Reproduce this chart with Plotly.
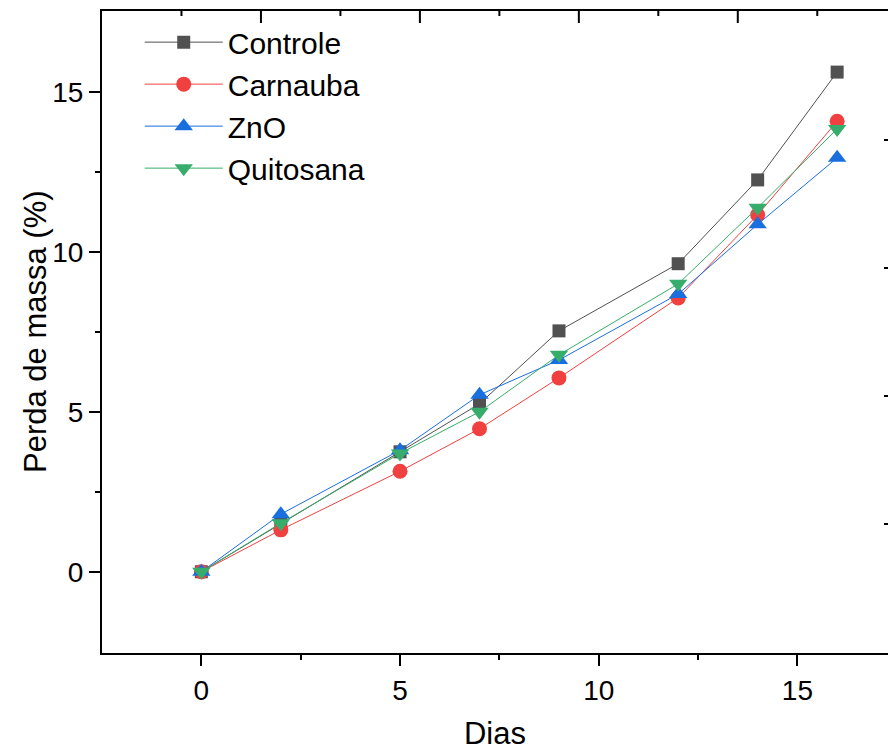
import plotly.graph_objects as go

dias = [0, 2, 5, 7, 9, 12, 14, 16]
controle = [0.0, 1.5, 3.75, 5.25, 7.53, 9.63, 12.25, 15.62]
carnauba = [0.0, 1.31, 3.14, 4.47, 6.06, 8.56, 11.16, 14.08]
zno = [0.0, 1.8, 3.8, 5.53, 6.62, 8.68, 10.86, 12.94]
quitosana = [0.0, 1.52, 3.7, 5.0, 6.78, 9.0, 11.38, 13.84]

x_ticks = [0, 5, 10, 15]
x_minor = [2.5, 7.5, 12.5]
y_ticks = [0, 5, 10, 15]
y_minor = [2.5, 7.5, 12.5]
top_ticks = [1.5, 5.5, 9.5, 13.5]
top_minor = [-0.5, 3.5, 7.5, 11.5, 15.5]
right_ticks = [1.5, 5.5, 9.5, 13.5]

series = [
    ("Controle", controle, "#515151", "square", 13),
    ("Carnauba", carnauba, "#F14040", "circle", 15),
    ("ZnO", zno, "#1A6FDF", "triangle-up", 16),
    ("Quitosana", quitosana, "#37AD6B", "triangle-down", 16),
]

font = "Liberation Sans, Arial, sans-serif"
XR = [-2.5, 17.28]
YR = [-2.54, 17.53]
PLOT_H = 751 - 11 - 98
PX_PER_Y = PLOT_H / (YR[1] - YR[0])

fig = go.Figure()
for name, vals, color, sym, size in series:
    fig.add_trace(go.Scatter(
        x=dias, y=vals, name=name, mode="lines+markers",
        line=dict(color=color, width=1),
        marker=dict(symbol=sym, size=size, color=color, line=dict(width=0)),
    ))

# top frame ticks (inward), drawn as line segments from the tick lists
tx, ty = [], []
for vals, ln in [(top_ticks, 12), (top_minor, 5)]:
    for v in vals:
        tx += [v, v, None]
        ty += [YR[1], YR[1] - ln / PX_PER_Y, None]
fig.add_trace(go.Scatter(x=tx, y=ty, mode="lines",
                         line=dict(color="black", width=2),
                         showlegend=False, hoverinfo="skip"))

# invisible trace to activate the right frame axis
fig.add_trace(go.Scatter(x=dias, y=controle, xaxis="x", yaxis="y2",
                         mode="markers", marker=dict(opacity=0, size=1),
                         showlegend=False, hoverinfo="skip"))

fig.update_layout(
    width=888, height=751,
    margin=dict(l=102, r=0, t=11, b=98),
    plot_bgcolor="white", paper_bgcolor="white",
    font=dict(family=font, color="black"),
    showlegend=True,
    legend=dict(x=0.048, y=0.992, xanchor="left", yanchor="top",
                bgcolor="rgba(0,0,0,0)", font=dict(size=30, family=font),
                tracegroupgap=0, itemwidth=78),
    xaxis=dict(
        range=XR, tickmode="array", tickvals=x_ticks,
        showline=True, mirror=True, linecolor="black", linewidth=2,
        ticks="outside", ticklen=11, tickwidth=2, tickcolor="black",
        minor=dict(tickvals=x_minor, ticks="outside", ticklen=5,
                   tickwidth=2, tickcolor="black"),
        showgrid=False, zeroline=False, automargin=False,
        tickfont=dict(size=28), title=dict(text="Dias", font=dict(size=31), standoff=20),
    ),
    yaxis=dict(
        range=YR, tickmode="array", tickvals=y_ticks,
        showline=True, linecolor="black", linewidth=2,
        ticks="outside", ticklen=11, tickwidth=2, tickcolor="black",
        minor=dict(tickvals=y_minor, ticks="outside", ticklen=5,
                   tickwidth=2, tickcolor="black"),
        showgrid=False, zeroline=False, automargin=False,
        tickfont=dict(size=28),
    ),
    yaxis2=dict(overlaying="y", side="right", anchor="x", range=YR,
                tickmode="array", tickvals=right_ticks, ticks="inside", ticklen=4,
                showline=False, showgrid=False, zeroline=False, automargin=False,
                showticklabels=False, tickcolor="black", tickwidth=2),
    annotations=[dict(
        text="Perda de massa (%)", textangle=-90, showarrow=False,
        xref="paper", yref="paper", x=0, y=0.5, xanchor="center", yanchor="middle",
        xshift=-67, font=dict(size=31, family=font, color="black"),
    )],
)

fig.write_html(
    "out.html",
    config={"displayModeBar": False},
    post_script="document.body.style.margin='0';document.body.style.overflow='hidden';",
)
